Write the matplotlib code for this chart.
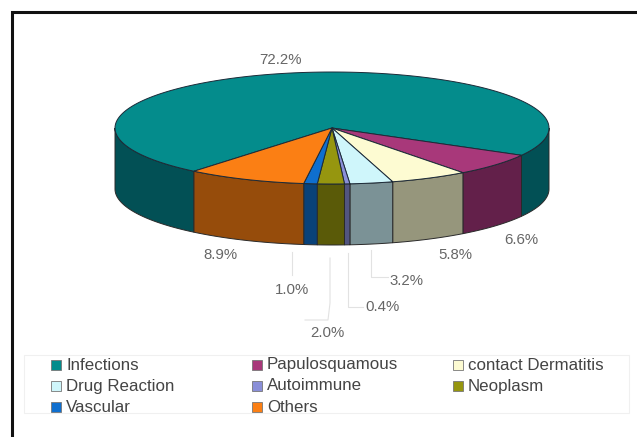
"""Distribution of skin conditions - 3D style pie with legend box."""
import matplotlib
matplotlib.use("Agg")
import matplotlib.pyplot as plt
from matplotlib.patches import Polygon, Rectangle
import numpy as np

plt.rcParams["font.family"] = ["Liberation Sans", "DejaVu Sans"]

categories = ["Infections", "Papulosquamous", "contact Dermatitis", "Drug Reaction",
              "Autoimmune", "Neoplasm", "Vascular", "Others"]
shares = [72.2, 6.6, 5.8, 3.2, 0.4, 2.0, 1.0, 8.9]
top_colors = ["#048C8C", "#A8387A", "#FDFBD2", "#CFF6FB", "#8A8FD8", "#96960F", "#0F6FCF", "#FB7F14"]
side_colors = ["#025055", "#63204A", "#96967C", "#7B9296", "#525580", "#5A5A08", "#094279", "#964C0B"]

# ellipse geometry, in figure pixels
cx, cy, rx, ry, depth = 332, 128, 217, 56, 61
start = 129.5  # start of the first slice, clockwise from east (screen y points down)

fig = plt.figure(figsize=(6.37, 4.37), dpi=100)
ax = fig.add_axes([0, 0, 1, 1])
ax.set_xlim(0, 637)
ax.set_ylim(437, 0)
ax.axis("off")

# heavy frame on the top and left only
ax.plot([12, 12, 637], [437, 12, 12], color="#111111", lw=2.2, solid_joinstyle="miter")


def rim(a, b, n=80):
    t = np.radians(np.linspace(a, b, n))
    return np.column_stack([cx + rx * np.cos(t), cy + ry * np.sin(t)])


# slice edges in degrees, clockwise on screen
sweep = np.array(shares) / sum(shares) * 360
edges = start + np.concatenate([[0], np.cumsum(sweep)])

# side walls first, only the front half (0..180 deg on screen) is visible
for i in range(len(shares)):
    for k in (-1, 0, 1):
        a = max(edges[i] + 360 * k, 0)
        b = min(edges[i + 1] + 360 * k, 180)
        if b <= a:
            continue
        arc = rim(a, b)
        low = arc[::-1] + [0, depth]
        ax.add_patch(Polygon(np.vstack([arc, low]), closed=True, fc=side_colors[i],
                             ec="#2a2a2a", lw=0.7, zorder=2))

# top surface
for i in range(len(shares)):
    pts = np.vstack([[cx, cy], rim(edges[i], edges[i + 1], 160)])
    ax.add_patch(Polygon(pts, closed=True, fc=top_colors[i], ec="#1c2a38", lw=0.7, zorder=3))

# value labels
label_pos = [(281, 60), (521, 240), (455, 255), (406, 281), (382, 307), (327, 333), (292, 290), (220, 255)]
for value, (x, y) in zip(shares, label_pos):
    ax.text(x, y, f"{value:.1f}%", ha="center", va="center", fontsize=10.8, color="#666666", zorder=5)

# leader lines for the thin slices
leaders = [
    [(371, 250), (371, 277), (388, 277)],
    [(348, 253), (348, 307), (363, 307)],
    [(330, 258), (330, 303), (328, 320), (305, 320)],
    [(292, 252), (292, 275)],
]
for line in leaders:
    xs, ys = zip(*line)
    ax.plot(xs, ys, color="#e2e2e2", lw=0.8, zorder=1)

# legend box
ax.add_patch(Rectangle((24, 355), 605, 58, fc="white", ec="#f0f0f0", lw=0.8, zorder=1))
legend_pos = [(51, 365), (252, 365), (453, 365), (51, 386), (252, 386), (453, 386), (51, 407), (252, 407)]
for name, col, (x, y) in zip(categories, top_colors, legend_pos):
    ax.add_patch(Rectangle((x, y - 5), 10, 10, fc=col, ec="#777777", lw=0.6, zorder=4))
    ax.text(x + 15, y, name, ha="left", va="center", fontsize=12.2, color="#444444", zorder=5)

fig.savefig("out.png", dpi=100)
